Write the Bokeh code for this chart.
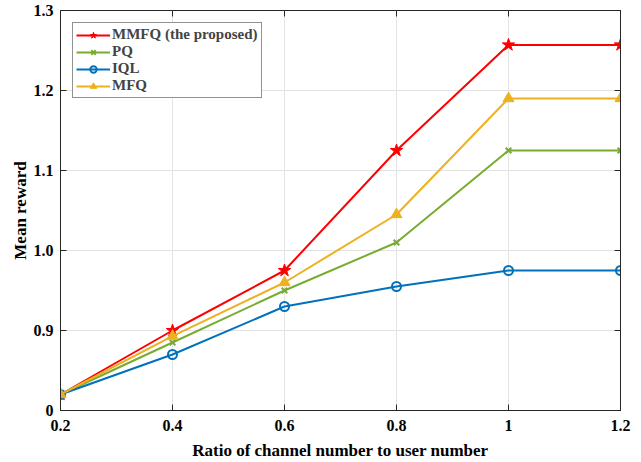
from bokeh.plotting import figure
from bokeh.models import LinearAxis, Legend, LegendItem, FixedTicker, Range1d
from bokeh.embed import file_html
from bokeh.resources import INLINE

x_vals = [0.2, 0.4, 0.6, 0.8, 1.0, 1.2]
mmfq = [0.82, 0.90, 0.975, 1.125, 1.257, 1.257]
pq = [0.82, 0.885, 0.95, 1.01, 1.125, 1.125]
iql = [0.82, 0.87, 0.93, 0.955, 0.975, 0.975]
mfq = [0.82, 0.893, 0.96, 1.045, 1.19, 1.19]

x_ticks = [0.2, 0.4, 0.6, 0.8, 1.0, 1.2]
x_tick_labels = {0.2: "0.2", 0.4: "0.4", 0.6: "0.6", 0.8: "0.8", 1.0: "1", 1.2: "1.2"}
y_ticks = [0.8, 0.9, 1.0, 1.1, 1.2, 1.3]
y_tick_labels = {0.8: "0", 0.9: "0.9", 1.0: "1.0", 1.1: "1.1", 1.2: "1.2", 1.3: "1.3"}

FONT = "Liberation Serif"
AX = "#262626"

p = figure(width=641, height=462, output_backend="svg", toolbar_location=None,
           x_range=Range1d(0.2, 1.2), y_range=Range1d(0.8, 1.3),
           min_border_left=60, min_border_right=21, min_border_top=10, min_border_bottom=52)
p.outline_line_color = AX
p.outline_line_width = 1

for ax in [p.xaxis[0], p.yaxis[0]]:
    ax.major_label_text_font = FONT
    ax.major_label_text_font_style = "bold"
    ax.major_label_text_font_size = "16px"
    ax.major_label_text_color = "black"
    ax.axis_label_text_font = FONT
    ax.axis_label_text_font_style = "bold"
    ax.axis_label_text_font_size = "17px"
    ax.axis_label_text_color = "black"
    ax.axis_line_color = AX
    ax.major_tick_in = 6
    ax.major_tick_out = 0
    ax.minor_tick_line_color = None
    ax.major_tick_line_color = AX

p.xaxis[0].ticker = FixedTicker(ticks=x_ticks)
p.xaxis[0].major_label_overrides = x_tick_labels
p.xaxis[0].major_label_standoff = 9
p.xaxis[0].axis_label = "Ratio of channel number to user number"
p.xaxis[0].axis_label_standoff = 7
p.yaxis[0].ticker = FixedTicker(ticks=y_ticks)
p.yaxis[0].major_label_overrides = y_tick_labels
p.yaxis[0].major_label_standoff = 7
p.yaxis[0].axis_label = "Mean reward"
p.yaxis[0].axis_label_standoff = 1

ra = LinearAxis(ticker=FixedTicker(ticks=y_ticks), major_label_text_color=None,
                major_tick_in=6, major_tick_out=0, minor_tick_line_color=None,
                axis_line_color=AX, major_tick_line_color=AX)
ta = LinearAxis(ticker=FixedTicker(ticks=x_ticks), major_label_text_color=None,
                major_tick_in=6, major_tick_out=0, minor_tick_line_color=None,
                axis_line_color=AX, major_tick_line_color=AX)
p.add_layout(ra, "right")
p.add_layout(ta, "above")

p.xgrid.ticker = FixedTicker(ticks=x_ticks)
p.ygrid.ticker = FixedTicker(ticks=y_ticks)
p.xgrid.grid_line_color = "#e3e3e3"
p.ygrid.grid_line_color = "#e3e3e3"

RED = "#ff0000"
GREEN = "#77ac30"
BLUE = "#0072bd"
ORANGE = "#edb120"

l1 = p.line(x_vals, mmfq, line_color=RED, line_width=2)
m1 = p.scatter(x_vals, mmfq, marker="star", size=13, fill_color=RED, line_color=RED)
l2 = p.line(x_vals, pq, line_color=GREEN, line_width=2)
m2 = p.scatter(x_vals, pq, marker="x", size=8, line_color=GREEN, line_width=2)
l3 = p.line(x_vals, iql, line_color=BLUE, line_width=2)
m3 = p.scatter(x_vals, iql, marker="circle", size=9, fill_color=None, line_color=BLUE, line_width=2)
l4 = p.line(x_vals, mfq, line_color=ORANGE, line_width=2)
m4 = p.scatter(x_vals, mfq, marker="triangle", size=11, fill_color=ORANGE, line_color=ORANGE)

legend = Legend(items=[
    LegendItem(label="MMFQ (the proposed)", renderers=[l1, m1]),
    LegendItem(label="PQ", renderers=[l2, m2]),
    LegendItem(label="IQL", renderers=[l3, m3]),
    LegendItem(label="MFQ", renderers=[l4, m4]),
], location="top_left")
legend.label_text_font = FONT
legend.label_text_font_style = "bold"
legend.label_text_font_size = "15px"
legend.label_height = 16
legend.glyph_height = 16
legend.glyph_width = 34
legend.spacing = 0
legend.padding = 3
legend.margin = 12
legend.label_standoff = 2
legend.border_line_color = AX
legend.border_line_width = 1
legend.background_fill_alpha = 1
p.add_layout(legend)

open("out.html", "w").write(file_html(p, INLINE))
